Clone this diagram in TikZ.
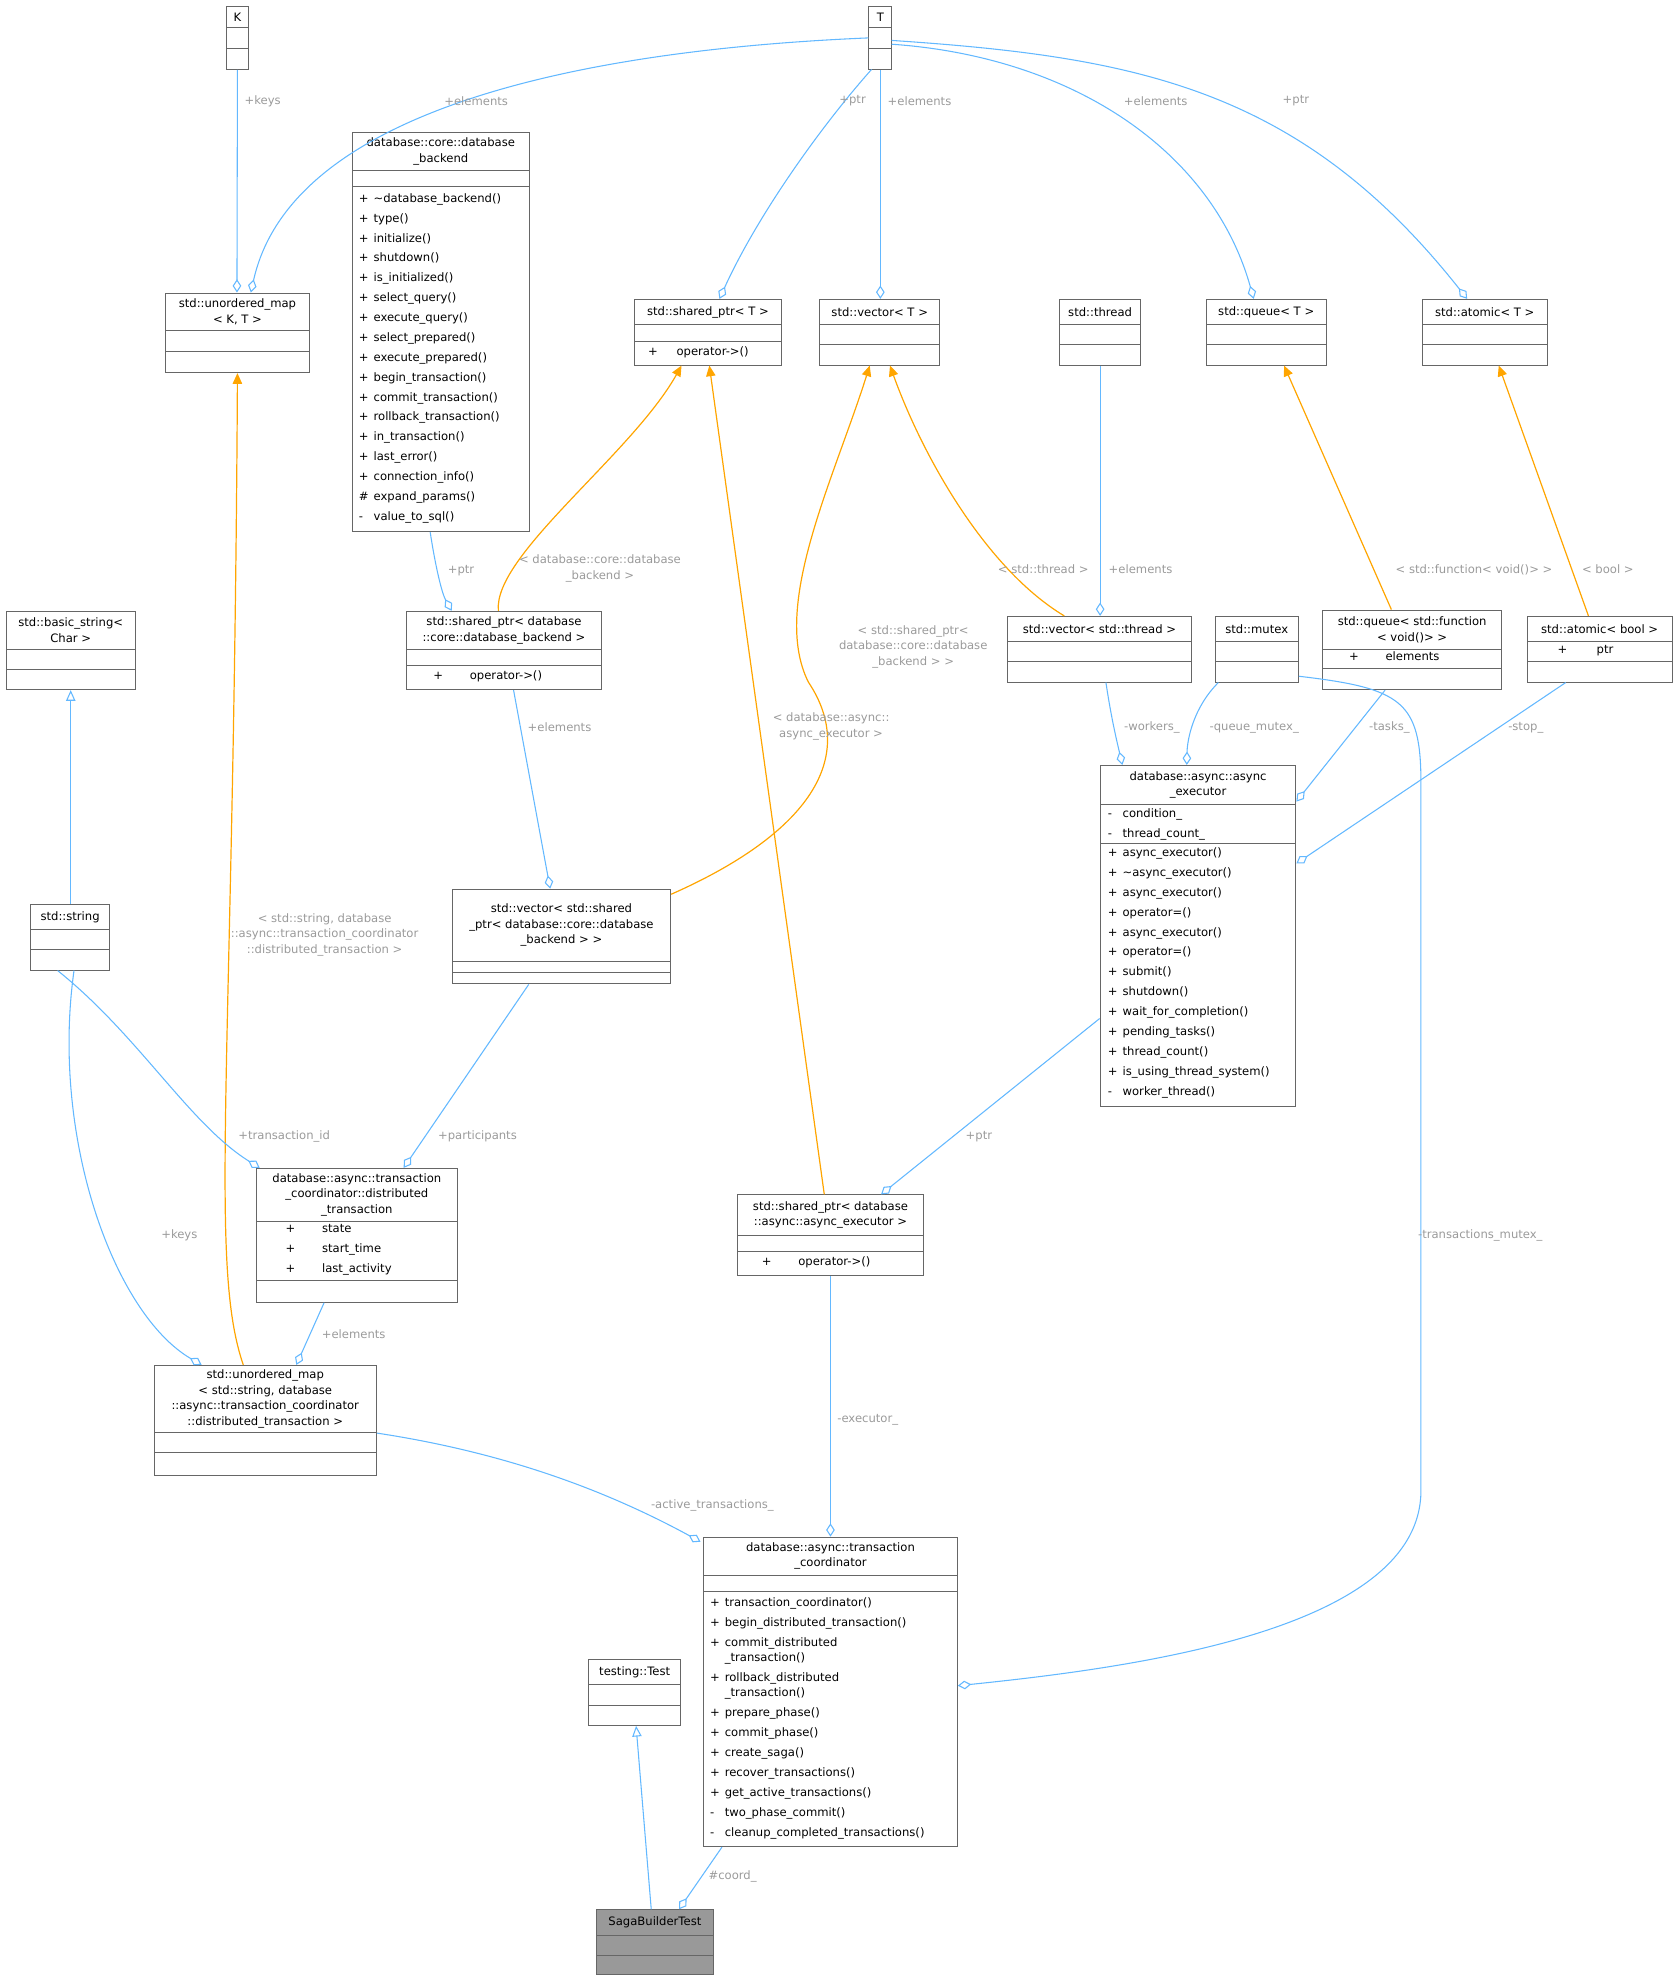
\documentclass[tikz,border=0pt]{standalone}
\usepackage{fontspec}
\setmainfont{DejaVu Sans}
\usetikzlibrary{positioning,arrows.meta,calc,fit}
\definecolor{boxgray}{HTML}{666666}
\definecolor{edgeblue}{HTML}{63B8FF}
\definecolor{tmplorange}{HTML}{FFA500}
\definecolor{lblgray}{HTML}{9A9A9A}
\newcommand\memfont{\fontsize{8.7}{14.9}\selectfont}
\newcommand\ttlfont{\fontsize{8.7}{11.6}\selectfont}
\newcommand\vis[1]{\makebox[11pt][l]{#1}}
\tikzset{
    x=0.947pt,
    y=-0.947pt,
    cls/.style = {
        draw=boxgray,
        fill=white,
        line width=0.75pt,
        inner sep=0pt
    },
    mem/.style = {
        anchor=north west,
        align=left,
        inner sep=0pt,
        font=\memfont
    },
    ttl/.style = {
        align=center,
        inner sep=0pt,
        font=\ttlfont
    },
    assoc/.style = {
        draw=edgeblue,
        line width=0.8pt,
        -{Diamond[open,fill=white,length=10pt,width=6.5pt]}
    },
    inherit/.style = {
        draw=edgeblue,
        line width=0.8pt,
        -{Triangle[open,fill=white,length=8pt,width=7pt]}
    },
    tmpl/.style = {
        draw=tmplorange,
        line width=0.9pt,
        -{Triangle[length=8pt,width=7pt]}
    },
    lbl/.style = {
        text=lblgray,
        font=\ttlfont,
        align=center,
        inner sep=1pt
    },
}
% class box: name, x1, y1, x2, first rule, second rule, bottom, title
\newcommand\umlclass[8]{%
    \node[cls, fit={(#2,#3)(#4,#7)}] (#1) {};
    \draw[boxgray, line width=0.75pt] (#2,#5) -- (#4,#5) (#2,#6) -- (#4,#6);
    \node[ttl] (#1-t) at ($(#2,#3)!.5!(#4,#5)$) {#8};
}
\begin{document}
\begin{tikzpicture}
    \useasboundingbox (0,0) rectangle (1330,1570);

    \umlclass{K}{179}{5}{197}{22}{38}{55}{K}
    \umlclass{T}{688}{5}{706}{22}{38}{55}{T}
    \umlclass{backend}{279}{105}{419}{135}{148}{421}{database::core::database\\\_backend}
    \node[mem] (backend-m) at (284,153) {\vis{+}\textasciitilde database\_backend()\\\vis{+}type()\\\vis{+}initialize()\\\vis{+}shutdown()\\\vis{+}is\_initialized()\\\vis{+}select\_query()\\\vis{+}execute\_query()\\\vis{+}select\_prepared()\\\vis{+}execute\_prepared()\\\vis{+}begin\_transaction()\\\vis{+}commit\_transaction()\\\vis{+}rollback\_transaction()\\\vis{+}in\_transaction()\\\vis{+}last\_error()\\\vis{+}connection\_info()\\\vis{\#}expand\_params()\\\vis{-}value\_to\_sql()};
    \umlclass{umapKT}{131}{232}{245}{262}{278}{295}{std::unordered\_map\\< K, T >}
    \umlclass{sptrT}{502}{237}{619}{257}{270}{289}{std::shared\_ptr< T >}
    \node[mem] (sptrT-m) at (513,274) {+\hspace{14pt}operator->()};
    \umlclass{vecT}{649}{237}{744}{257}{273}{289}{std::vector< T >}
    \umlclass{thread}{839}{237}{903}{257}{273}{289}{std::thread}
    \umlclass{queueT}{955}{237}{1050}{257}{273}{289}{std::queue< T >}
    \umlclass{atomicT}{1126}{237}{1225}{257}{273}{289}{std::atomic< T >}

    \umlclass{bstring}{5}{484}{107}{514}{530}{546}{std::basic\_string<\\Char >}
    \umlclass{sptrB}{322}{484}{476}{514}{527}{546}{std::shared\_ptr< database\\::core::database\_backend >}
    \node[mem] (sptrB-m) at (343,531) {+\hspace{20pt}operator->()};
    \umlclass{vecThr}{798}{488}{943}{508}{524}{540}{std::vector< std::thread >}
    \umlclass{mutex}{962}{488}{1028}{508}{524}{540}{std::mutex}
    \umlclass{queueF}{1047}{483}{1189}{514}{529}{546}{std::queue< std::function\\< void()> >}
    \node[mem] (queueF-a) at (1068,516) {+\hspace{20pt}elements};
    \umlclass{atomicB}{1209}{488}{1324}{508}{524}{540}{std::atomic< bool >}
    \node[mem] (atomicB-a) at (1233,511) {+\hspace{22pt}ptr};

    \umlclass{exec}{871}{606}{1026}{637}{668}{876}{database::async::async\\\_executor}
    \node[mem] (exec-a) at (877,640) {\vis{-}condition\_\\\vis{-}thread\_count\_};
    \node[mem] (exec-m) at (877,671) {\vis{+}async\_executor()\\\vis{+}\textasciitilde async\_executor()\\\vis{+}async\_executor()\\\vis{+}operator=()\\\vis{+}async\_executor()\\\vis{+}operator=()\\\vis{+}submit()\\\vis{+}shutdown()\\\vis{+}wait\_for\_completion()\\\vis{+}pending\_tasks()\\\vis{+}thread\_count()\\\vis{+}is\_using\_thread\_system()\\\vis{-}worker\_thread()};
    \umlclass{string}{24}{716}{87}{736}{752}{768}{std::string}
    \umlclass{vecSB}{358}{704}{531}{761}{770}{779}{std::vector< std::shared\\\_ptr< database::core::database\\\_backend > >}
    \umlclass{dtx}{203}{925}{362}{967}{1014}{1031}{database::async::transaction\\\_coordinator::distributed\\\_transaction}
    \node[mem] (dtx-a) at (226,969) {+\hspace{20pt}state\\+\hspace{20pt}start\_time\\+\hspace{20pt}last\_activity};
    \umlclass{sptrE}{584}{946}{731}{978}{991}{1010}{std::shared\_ptr< database\\::async::async\_executor >}
    \node[mem] (sptrE-m) at (603,995) {+\hspace{20pt}operator->()};
    \umlclass{umapDT}{122}{1081}{298}{1134}{1150}{1168}{std::unordered\_map\\< std::string, database\\::async::transaction\_coordinator\\::distributed\_transaction >}
    \umlclass{coord}{557}{1217}{758}{1247}{1260}{1462}{database::async::transaction\\\_coordinator}
    \node[mem] (coord-m) at (562,1265) {\vis{+}transaction\_coordinator()\\\vis{+}begin\_distributed\_transaction()\\\vis{+}commit\_distributed\\[-3.5pt]\vis{}\_transaction()\\\vis{+}rollback\_distributed\\[-3.5pt]\vis{}\_transaction()\\\vis{+}prepare\_phase()\\\vis{+}commit\_phase()\\\vis{+}create\_saga()\\\vis{+}recover\_transactions()\\\vis{+}get\_active\_transactions()\\\vis{-}two\_phase\_commit()\\\vis{-}cleanup\_completed\_transactions()};
    \umlclass{test}{466}{1314}{539}{1334}{1350}{1366}{testing::Test}
    \node[cls, fill=white!60!black, fit={(472,1512)(565,1563)}] (saga) {};
    \draw[boxgray, line width=0.75pt] (472,1532) -- (565,1532) (472,1548) -- (565,1548);
    \node[ttl] (saga-t) at (518.5,1522) {SagaBuilderTest};

    % template parameters
    \path[assoc] (T.west) .. controls (450,40) and (230,90) .. ($(umapKT.north west)+(68,0)$);
    \path[assoc] (K.south) -- ($(umapKT.north west)+(57,0)$);
    \path[assoc] (690,55) .. controls (650,100) and (600,170) .. ($(sptrT.north west)+(68,0)$);
    \path[assoc] (T.south) -- (vecT.north -| T.south);
    \path[assoc] (706,35) .. controls (850,45) and (960,120) .. ($(queueT.north west)+(38,0)$);
    \path[assoc] (706,32) .. controls (900,45) and (1030,70) .. ($(atomicT.north west)+(36,0)$);
    \node[lbl] (l1) at (377,80) {+elements};
    \node[lbl] (l2) at (208,80) {+keys};
    \node[lbl] (l3) at (675,80) {+ptr};
    \node[lbl] (l4) at (728,80) {+elements};
    \node[lbl] (l5) at (915,80) {+elements};
    \node[lbl] (l6) at (1026,80) {+ptr};

    % instantiations
    \path[tmpl] ($(sptrB.north west)+(73,0)$) .. controls (390,440) and (500,360) .. ($(sptrT.south west)+(38,0)$);
    \path[tmpl] (vecSB.east |- 0,708) .. controls (640,660) and (680,600) .. (640,540) .. controls (610,480) and (660,380) .. ($(vecT.south west)+(40,0)$);
    \path[tmpl] ($(vecThr.north west)+(45,0)$) .. controls (780,450) and (730,360) .. ($(vecT.south west)+(56,0)$);
    \path[tmpl] ($(queueF.north west)+(55,0)$) -- ($(queueT.south west)+(62,0)$);
    \path[tmpl] ($(atomicB.north west)+(49,0)$) -- ($(atomicT.south west)+(61,0)$);
    \path[tmpl] ($(sptrE.north west)+(69,0)$) -- ($(sptrT.south west)+(60,0)$);
    \path[tmpl] ($(umapDT.north west)+(71,0)$) .. controls (165,1000) and (185,850) .. (umapKT.south);
    \node[lbl] (l7) at (475,450) {< database::core::database\\\_backend >};
    \node[lbl] (l8) at (723,512) {< std::shared\_ptr<\\database::core::database\\\_backend > >};
    \node[lbl] (l9) at (826,451) {< std::thread >};
    \node[lbl] (l10) at (1167,451) {< std::function< void()> >};
    \node[lbl] (l11) at (1273,451) {< bool >};
    \node[lbl] (l12) at (658,575) {< database::async::\\async\_executor >};
    \node[lbl] (l13) at (257,740) {< std::string, database\\::async::transaction\_coordinator\\::distributed\_transaction >};

    % members
    \path[assoc] ($(backend.south west)+(62,0)$) .. controls (345,450) and (350,470) .. ($(sptrB.north west)+(36,0)$);
    \path[assoc] ($(sptrB.south west)+(85,0)$) -- ($(vecSB.north west)+(78,0)$);
    \path[assoc] (thread.south) -- (vecThr.north -| thread.south);
    \path[assoc] ($(vecThr.south west)+(78,0)$) .. controls (880,570) and (885,590) .. ($(exec.north west)+(18,0)$);
    \path[assoc] ($(mutex.south west)+(3,0)$) .. controls (945,560) and (940,585) .. ($(exec.north west)+(69,0)$);
    \path[assoc] ($(queueF.south west)+(50,0)$) -- ($(exec.north east)+(0,29)$);
    \path[assoc] ($(atomicB.south west)+(31,0)$) -- ($(exec.north east)+(0,78)$);
    \path[assoc] ($(exec.south west)+(0,-70)$) -- ($(sptrE.north west)+(114,0)$);
    \path[inherit] (bstring.south |- string.north) -- (bstring.south);
    \path[assoc] ($(string.south west)+(22,0)$) .. controls (110,820) and (150,890) .. ($(dtx.north west)+(3,0)$);
    \path[assoc] ($(vecSB.south west)+(61,0)$) -- ($(dtx.north west)+(117,0)$);
    \path[assoc] ($(string.south west)+(35,0)$) .. controls (40,900) and (90,1040) .. ($(umapDT.north west)+(38,0)$);
    \path[assoc] ($(dtx.south west)+(54,0)$) -- ($(umapDT.north west)+(113,0)$);
    \path[assoc] ($(umapDT.north east)+(0,54)$) .. controls (400,1150) and (480,1180) .. ($(coord.north west)+(-2,4)$);
    \path[assoc] (sptrE.south) -- (coord.north -| sptrE.south);
    \path[assoc] ($(mutex.south east)+(0,-5)$) .. controls (1110,545) and (1125,555) .. (1125,620) -- (1125,1180) .. controls (1125,1290) and (900,1320) .. ($(coord.north east)+(0,118)$);
    \path[inherit] ($(saga.north west)+(44,0)$) -- ($(test.south west)+(38,0)$);
    \path[assoc] ($(coord.south west)+(15,0)$) -- ($(saga.north west)+(66,0)$);
    \node[lbl] (l14) at (365,452) {+ptr};
    \node[lbl] (l15) at (443,576) {+elements};
    \node[lbl] (l16) at (903,451) {+elements};
    \node[lbl] (l17) at (912,576) {-workers\_};
    \node[lbl] (l18) at (993,576) {-queue\_mutex\_};
    \node[lbl] (l19) at (1100,576) {-tasks\_};
    \node[lbl] (l20) at (1208,576) {-stop\_};
    \node[lbl] (l21) at (775,900) {+ptr};
    \node[lbl] (l22) at (225,900) {+transaction\_id};
    \node[lbl] (l23) at (378,900) {+participants};
    \node[lbl] (l24) at (142,978) {+keys};
    \node[lbl] (l25) at (280,1056) {+elements};
    \node[lbl] (l26) at (564,1192) {-active\_transactions\_};
    \node[lbl] (l27) at (687,1124) {-executor\_};
    \node[lbl] (l28) at (1172,978) {-transactions\_mutex\_};
    \node[lbl] (l29) at (580,1486) {\#coord\_};
\end{tikzpicture}
\end{document}
